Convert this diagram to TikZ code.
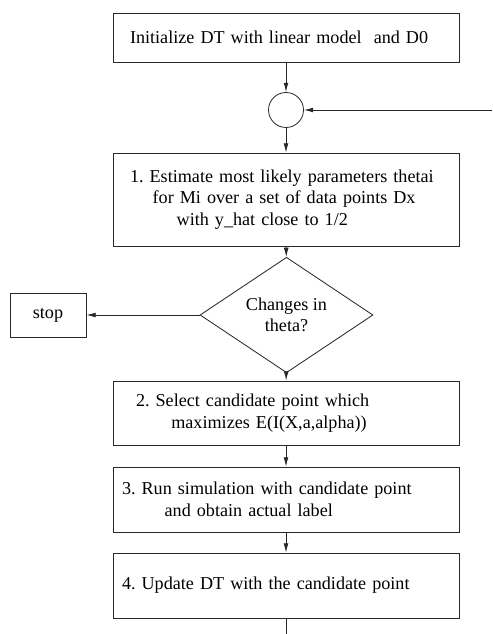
\documentclass[tikz,border=0pt]{standalone}
\usepackage{fontspec}
\setmainfont{Liberation Serif}
\usepackage{tikz}
\usetikzlibrary{arrows.meta,positioning,shapes,calc}
\definecolor{linegray}{RGB}{40,40,40}
\frenchspacing

\begin{document}
\begin{tikzpicture}[x=0.75pt,y=-0.75pt,
    font=\fontsize{13.6}{16.1}\selectfont,
    every node/.style={draw=linegray, line width=0.6pt},
    stepbox/.style={rectangle, minimum width=259.5pt, text width=246pt,
      inner xsep=6.75pt, inner ysep=0pt, align=left},
    flow/.style={draw=linegray, line width=0.6pt, -{Latex[length=7pt,width=3.6pt]}},
    plain/.style={draw=linegray, line width=0.6pt}]
        \useasboundingbox (0,0) rectangle (492,634);
        \node[stepbox, minimum height=36.75pt] (init) at (286,37.5)
            {\hspace*{6pt}Initialize DT with linear model~ and D0};
        \node[circle, minimum size=26.25pt, inner sep=0pt] (join) at (286,110) {};
        \node[stepbox, minimum height=69.75pt] (est) at (286,199.5)
            {\hspace*{6pt}1. Estimate most likely parameters thetai\\
             \hspace*{23pt}for Mi over a set of data points Dx\\
             \hspace*{41pt}with y\_hat close to 1/2};
        \node[diamond, minimum width=129.75pt, minimum height=63pt, inner sep=0pt,
            align=center] (chg) at (286.5,315) {Changes in\\theta?};
        \node[rectangle, minimum width=57pt, minimum height=33pt] (stop) at (48,315) {stop};
        \node[stepbox, minimum height=48pt] (sel) at (286,413)
            {\hspace*{10.5pt}2. Select candidate point which\\
             \hspace*{37pt}maximizes E(I(X,a,alpha))};
        \node[stepbox, minimum height=48.75pt] (run) at (286,499.5)
            {3. Run simulation with candidate point\\
             \hspace*{32pt}and obtain actual label};
        \node[stepbox, minimum height=48.75pt] (upd) at (286,585.5)
            {4. Update DT with the candidate point};
        \coordinate (loopin) at (492,110);
        \coordinate (loopout) at (286,634);
        \draw[flow] (init) -- (join);
        \draw[flow] (loopin) -- (join);
        \draw[flow] (join) -- (est);
        \draw[flow] (est) -- (chg);
        \draw[flow] (chg) -- (stop);
        \draw[flow] (chg) -- (sel);
        \draw[flow] (sel) -- (run);
        \draw[flow] (run) -- (upd);
        \draw[plain] (upd) -- (loopout);
    \end{tikzpicture}
\end{document}
